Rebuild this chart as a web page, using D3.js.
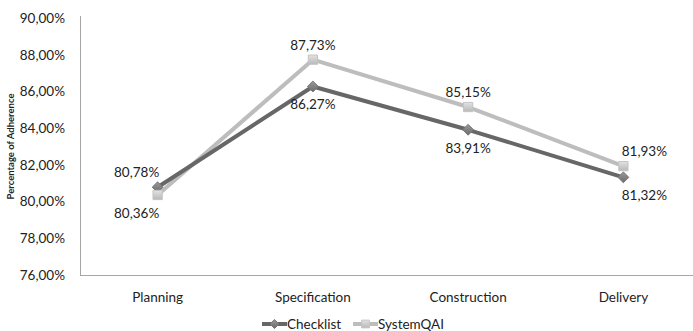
<!DOCTYPE html>
<html>
<head>
<meta charset="utf-8">
<script src="https://cdn.jsdelivr.net/npm/d3@7"></script>
<style>
  html, body { margin: 0; padding: 0; background: #fff; }
  svg { display: block; font-family: Lato, "Open Sans", sans-serif; }
</style>
</head>
<body>
<svg id="chart" width="693" height="331"></svg>
<script>
// Adherence per project phase, two review methods
const phases = ["Planning", "Specification", "Construction", "Delivery"];
const checklist = [80.78, 86.27, 83.91, 81.32];
const systemQAI = [80.36, 87.73, 85.15, 81.93];
const yTicks = [76, 78, 80, 82, 84, 86, 88, 90];
const seriesNames = ["Checklist", "SystemQAI"];

const fmt = v => v.toFixed(2).replace(".", ",") + "%";

const svg = d3.select("#chart");
const W = 693, H = 331;
const m = { left: 80, top: 18, bottom: 275 };
const plotRight = 701;

const x = d3.scaleBand().domain(phases).range([m.left, plotRight]);
const y = d3.scaleLinear().domain([76, 90]).range([m.bottom, m.top]);
const cx = d => x(d) + x.bandwidth() / 2;

// gradients for the marker fills
const defs = svg.append("defs");
const g1 = defs.append("linearGradient").attr("id", "gDark").attr("x1", 0).attr("y1", 0).attr("x2", 0).attr("y2", 1);
g1.append("stop").attr("offset", "0%").attr("stop-color", "#9a9a9a");
g1.append("stop").attr("offset", "100%").attr("stop-color", "#6a6a6a");
const g2 = defs.append("linearGradient").attr("id", "gLight").attr("x1", 0).attr("y1", 0).attr("x2", 0).attr("y2", 1);
g2.append("stop").attr("offset", "0%").attr("stop-color", "#e2e2e2");
g2.append("stop").attr("offset", "100%").attr("stop-color", "#b8b8b8");

// y axis
const yAxis = svg.append("g").attr("transform", `translate(${m.left},0)`)
  .call(d3.axisLeft(y).tickValues(yTicks).tickFormat(fmt).tickSize(0).tickPadding(15));
yAxis.select(".domain").attr("stroke", "#a6a6a6").attr("stroke-width", 1)
  .attr("d", `M0.5,${m.top - 2}V${m.bottom}`);
yAxis.selectAll("text").attr("font-size", 13.5).attr("fill", "#222").attr("font-family", "Lato, sans-serif");

// x axis
const xAxis = svg.append("g").attr("transform", `translate(0,${m.bottom})`)
  .call(d3.axisBottom(x).tickSize(0).tickPadding(17));
xAxis.select(".domain").attr("stroke", "#a6a6a6").attr("stroke-width", 1)
  .attr("d", `M${m.left},0.5H${W}`);
xAxis.selectAll("text").attr("font-size", 13.5).attr("fill", "#222").attr("font-family", "Lato, sans-serif");

// axis title
svg.append("text")
  .attr("transform", `translate(14,${(m.top + m.bottom) / 2}) rotate(-90)`)
  .attr("text-anchor", "middle")
  .attr("font-size", 9.5).attr("font-weight", "bold").attr("fill", "#222")
  .text("Percentage of Adherence");

const line = d3.line().x((d, i) => cx(phases[i])).y(d => y(d));

const series = [
  { name: seriesNames[0], values: checklist, stroke: "#676767", fill: "url(#gDark)", shape: d3.symbolDiamond2, size: 75, labelSide: [-1, 1, 1, 1] },
  { name: seriesNames[1], values: systemQAI, stroke: "#bdbdbd", fill: "url(#gLight)", shape: d3.symbolSquare2, size: 110, labelSide: [1, -1, -1, -1] }
];

// draw the lighter series first so the darker one sits on top
[series[1], series[0]].forEach(s => {
  svg.append("path").datum(s.values)
    .attr("fill", "none").attr("stroke", s.stroke).attr("stroke-width", 4)
    .attr("stroke-linejoin", "round")
    .attr("d", line);
});

series.forEach(s => {
  svg.append("g").selectAll("path").data(s.values).join("path")
    .attr("transform", (d, i) => `translate(${cx(phases[i])},${y(d)})`)
    .attr("d", d3.symbol().type(s.shape).size(s.size))
    .attr("fill", s.fill)
    .attr("stroke", s.stroke === "#676767" ? "#777" : "#c4c4c4")
    .attr("stroke-width", 1);
});

// value labels: above (-1) or below (+1); end points nudged outward
series.forEach(s => {
  svg.append("g").selectAll("text").data(s.values).join("text")
    .attr("x", (d, i) => cx(phases[i]) + (i === 0 ? -21 : i === phases.length - 1 ? 21 : 0))
    .attr("y", (d, i) => y(d) + (s.labelSide[i] < 0 ? -10 : 23))
    .attr("text-anchor", "middle")
    .attr("font-size", 13.5).attr("fill", "#222")
    .text(fmt);
});

// legend
const legend = svg.append("g").attr("transform", `translate(262,324)`);
series.forEach((s, i) => {
  const gx = i * 91;
  const g = legend.append("g").attr("transform", `translate(${gx},0)`);
  g.append("line").attr("x1", 0).attr("x2", 25).attr("y1", 0).attr("y2", 0)
    .attr("stroke", s.stroke).attr("stroke-width", 4);
  g.append("path").attr("transform", "translate(12.5,0)")
    .attr("d", d3.symbol().type(s.shape).size(s.size * 0.7))
    .attr("fill", s.fill).attr("stroke", i === 0 ? "#777" : "#c4c4c4");
  g.append("text").attr("x", 25).attr("y", 5)
    .attr("font-size", 13.5).attr("fill", "#222").text(s.name);
});
</script>
</body>
</html>
